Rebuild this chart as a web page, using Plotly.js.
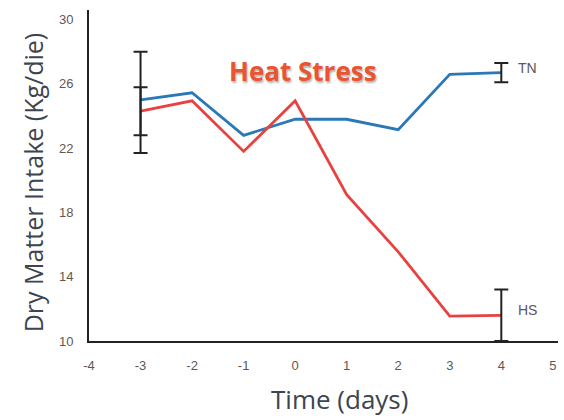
<!DOCTYPE html>
<html>
<head>
<meta charset="utf-8">
<script src="https://cdn.plot.ly/plotly-3.0.1.min.js"></script>
<style>html,body{margin:0;padding:0;background:#fff;}#chart{width:564px;height:420px;}</style>
</head>
<body>
<div id="chart"></div>
<script>
var days = [-3, -2, -1, 0, 1, 2, 3, 4];
var tnValues = [25.0, 25.45, 22.8, 23.8, 23.8, 23.15, 26.6, 26.7];
var hsValues = [24.3, 24.95, 21.8, 24.95, 19.1, 15.55, 11.55, 11.6];

var errDays = [-3, 4];
var tnErrVals = [25.0, 26.7];
var tnErrPlus = [3.0, 0.6];
var tnErrMinus = [3.3, 0.6];
var hsErrVals = [24.3, 11.6];
var hsErrPlus = [1.5, 1.6];
var hsErrMinus = [1.5, 1.6];

var xTicks = [-4, -3, -2, -1, 0, 1, 2, 3, 4, 5];
var yTicks = [10, 14, 18, 22, 26, 30];

var xTitle = 'Time (days)';
var yTitle = 'Dry Matter Intake (Kg/die)';

var tickFont = {size: 13, color: '#5f5852', family: 'Liberation Sans Narrow, Liberation Sans, sans-serif'};
var titleFontFamily = 'Open Sans, sans-serif';

var traces = [
  {x: days, y: tnValues, mode: 'lines', name: 'TN', line: {color: '#2a79b6', width: 2.8}},
  {x: days, y: hsValues, mode: 'lines', name: 'HS', line: {color: '#e8413f', width: 2.8}},
  {x: errDays, y: tnErrVals, mode: 'markers', marker: {size: 0.1, color: 'rgba(0,0,0,0)'}, showlegend: false,
   error_y: {type: 'data', symmetric: false, array: tnErrPlus, arrayminus: tnErrMinus, color: '#222', thickness: 2, width: 7}},
  {x: errDays, y: hsErrVals, mode: 'markers', marker: {size: 0.1, color: 'rgba(0,0,0,0)'}, showlegend: false,
   error_y: {type: 'data', symmetric: false, array: hsErrPlus, arrayminus: hsErrMinus, color: '#222', thickness: 2, width: 7}}
];

var layout = {
  width: 564, height: 420,
  margin: {l: 89, r: 6, t: 10, b: 79},
  paper_bgcolor: '#fff', plot_bgcolor: '#fff',
  showlegend: false,
  font: {family: titleFontFamily},
  xaxis: {
    range: [-4, 5.1], tickvals: xTicks, ticktext: xTicks.map(String),
    showgrid: false, zeroline: false, showline: true, linecolor: '#222', linewidth: 2,
    ticks: '', tickfont: tickFont,
    ticklabelstandoff: 11,
    automargin: false
  },
  yaxis: {
    range: [10, 30.6], tickvals: yTicks, ticktext: yTicks.map(String),
    showgrid: false, zeroline: false, showline: true, linecolor: '#222', linewidth: 2,
    ticks: '', tickfont: tickFont,
    ticklabelstandoff: 11,
    automargin: false
  },
  shapes: [
    {type: 'line', xref: 'x', yref: 'y', x0: -4.17, x1: -4, y0: 10, y1: 10, line: {color: '#222', width: 2}},
    {type: 'line', xref: 'x', yref: 'y', x0: -4, x1: -4, y0: 10, y1: 9.5, line: {color: '#222', width: 2}}
  ],
  annotations: [
    {x: 0.535, y: -0.176, xref: 'paper', yref: 'paper', text: xTitle, showarrow: false,
     xanchor: 'center', yanchor: 'middle',
     font: {size: 26, color: '#3d4550', family: titleFontFamily}},
    {x: -0.119, y: 0.48, xref: 'paper', yref: 'paper', text: yTitle, showarrow: false, textangle: -90,
     xanchor: 'center', yanchor: 'middle',
     font: {size: 25, color: '#3d4550', family: titleFontFamily}},
    {x: 0.15, y: 26.8, xref: 'x', yref: 'y', text: '<b>Heat Stress</b>', showarrow: false,
     font: {size: 26, color: '#ea5530', family: titleFontFamily, shadow: '1px 2px 2px rgba(0,0,0,0.3)'}},
    {x: 4.29, y: 27.0, xref: 'x', yref: 'y', text: 'TN', showarrow: false, xanchor: 'left',
     font: {size: 14, color: '#5a5560', family: 'Liberation Sans Narrow, sans-serif'}},
    {x: 4.29, y: 11.9, xref: 'x', yref: 'y', text: 'HS', showarrow: false, xanchor: 'left',
     font: {size: 14, color: '#5a5560', family: 'Liberation Sans Narrow, sans-serif'}}
  ]
};

Plotly.newPlot('chart', traces, layout, {displayModeBar: false, staticPlot: true});
</script>
</body>
</html>
